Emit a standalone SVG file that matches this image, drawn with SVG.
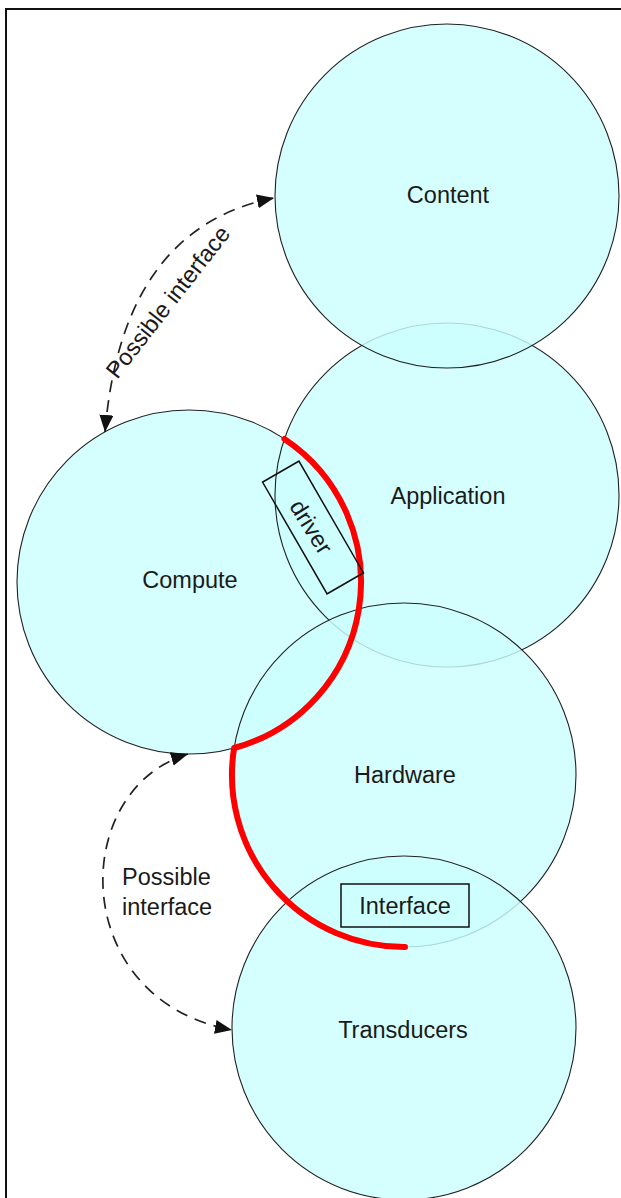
<svg xmlns="http://www.w3.org/2000/svg" width="621" height="1198" viewBox="0 0 621 1198">
<style>
.c{fill:#ccffff;fill-opacity:0.82;stroke:#222;stroke-width:1.1}
.t{font-family:"Liberation Sans",Arial,sans-serif;font-size:23.5px;fill:#1a1a1a}
.m{text-anchor:middle}
.d{fill:none;stroke:#222;stroke-width:1.7;stroke-dasharray:12 8}
.b{fill:none;stroke:#111;stroke-width:1.5}
</style>
<defs>
<marker id="ah" markerUnits="userSpaceOnUse" markerWidth="18" markerHeight="16" refX="17" refY="7" orient="auto-start-reverse">
<path d="M0,0 L17,7 L0,14 z" fill="#111"/>
</marker>
</defs>
<rect width="621" height="1198" fill="#fff"/>
<path d="M6,1198 V9 H621" fill="none" stroke="#111" stroke-width="2"/>
<g id="compute"><circle class="c" cx="189" cy="582" r="172"/></g>
<g id="application"><circle class="c" cx="447" cy="495" r="172"/></g>
<g id="content"><circle class="c" cx="447" cy="196" r="172"/></g>
<g id="hardware"><circle class="c" cx="404" cy="775" r="172"/></g>
<g id="transducers"><circle class="c" cx="404" cy="1028" r="172"/></g>
<g id="labels">
<text class="t m" x="448" y="203">Content</text>
<text class="t m" x="448" y="504">Application</text>
<text class="t m" x="190" y="588">Compute</text>
<text class="t m" x="405" y="783">Hardware</text>
<text class="t m" x="403" y="1038">Transducers</text>
</g>
<g id="boundary">
<path d="M284.4,438.9 A172,172 0 0 1 234.1,748 A172,172 0 0 0 405,947" fill="none" stroke="#ff0000" stroke-width="6" stroke-linecap="round" stroke-linejoin="round"/>
</g>
<g id="driver">
<rect class="b" x="-64.5" y="-21" width="129" height="42" transform="translate(313,527.5) rotate(60)"/>
<text class="t m" transform="translate(311,527) rotate(58)" x="0" y="8">driver</text>
</g>
<g id="interface">
<rect class="b" x="341" y="884" width="128" height="43"/>
<text class="t m" x="405" y="914">Interface</text>
</g>
<g id="connectors">
<path class="d" d="M105,432 Q122,228 274,198" marker-start="url(#ah)" marker-end="url(#ah)"/>
<path class="d" d="M188,754 C68,790 68,1000 232,1030" marker-start="url(#ah)" marker-end="url(#ah)"/>
<text class="t m" transform="translate(168,302) rotate(-52)" x="0" y="8">Possible interface</text>
<text class="t" x="122" y="885">Possible</text>
<text class="t" x="122" y="915">interface</text>
</g>
</svg>
